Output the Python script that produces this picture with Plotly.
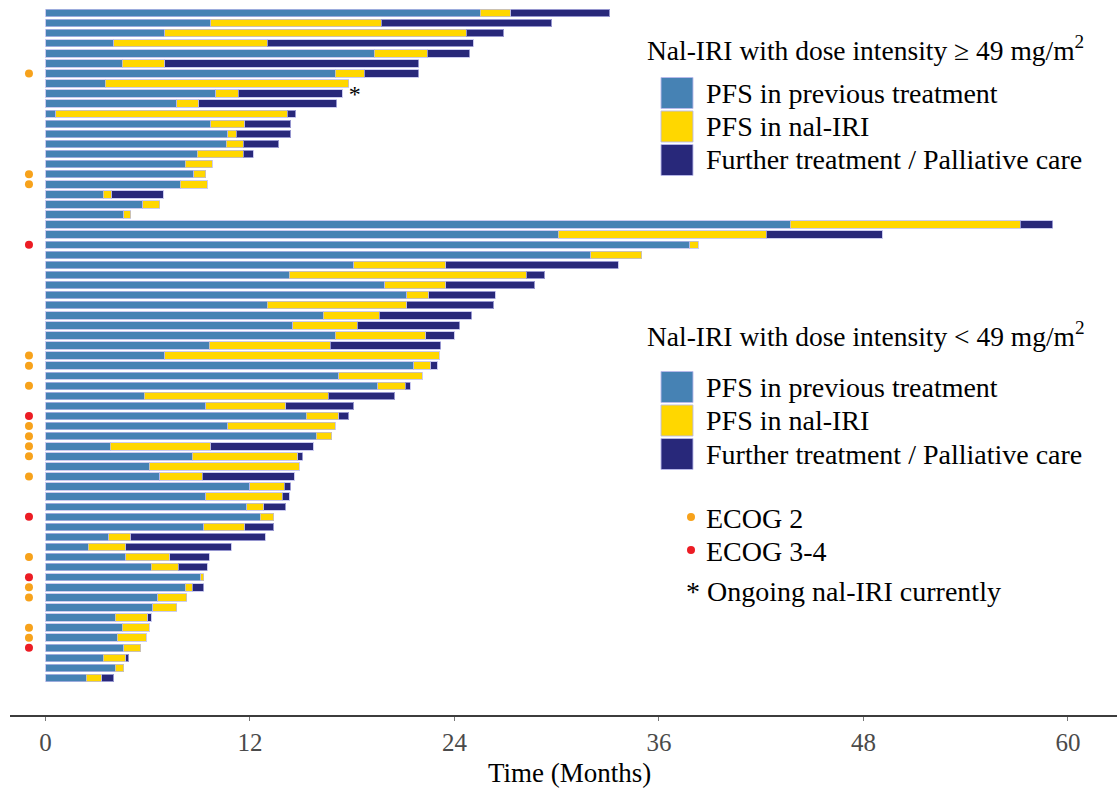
import plotly.graph_objects as go

# ---------------- data (months) ----------------
# Group 1: nal-IRI dose intensity >= 49 mg/m2 (top to bottom)
high_prev = [25.5, 9.7, 7.0, 4.0, 19.3, 4.5, 17.0, 3.5, 10.0, 7.7, 0.6, 9.7, 10.7, 10.6, 8.9, 8.2, 8.7, 7.9, 3.4, 5.7, 4.6]
high_nal = [1.8, 10.0, 17.7, 9.0, 3.1, 2.5, 1.7, 14.3, 1.3, 1.3, 13.6, 2.0, 0.5, 1.0, 2.7, 1.6, 0.7, 1.6, 0.5, 1.0, 0.4]
high_further = [5.8, 10.0, 2.2, 12.1, 2.5, 14.9, 3.2, 0.0, 6.1, 8.1, 0.5, 2.7, 3.2, 2.1, 0.6, 0.0, 0.0, 0.0, 3.0, 0.0, 0.0]
high_ecog = ["", "", "", "", "", "", "2", "", "", "", "", "", "", "", "", "", "2", "2", "", "", ""]
high_ongoing = [False, False, False, False, False, False, False, True, False, False, False, False, False, False, False, False, False, False, False, False, False]

# Group 2: nal-IRI dose intensity < 49 mg/m2 (top to bottom)
low_prev = [43.7, 30.1, 37.8, 32.0, 18.1, 14.3, 19.9, 21.2, 13.0, 16.3, 14.5, 17.0, 9.6, 7.0, 21.6, 17.2,
            19.5, 5.8, 9.4, 15.3, 10.7, 15.9, 3.8, 8.6, 6.1, 6.7, 12.0, 9.4, 11.8, 12.6, 9.3, 3.7,
            2.5, 4.7, 6.2, 9.1, 8.2, 6.6, 6.3, 4.1, 4.5, 4.2, 4.6, 3.4, 4.1, 2.4]
low_nal = [13.5, 12.2, 0.5, 3.0, 5.4, 13.9, 3.6, 1.3, 8.2, 3.3, 3.8, 5.3, 7.1, 16.1, 1.0, 4.9,
           1.6, 10.8, 4.7, 1.9, 6.3, 0.9, 5.9, 6.2, 8.8, 2.5, 2.0, 4.5, 1.0, 0.8, 2.4, 1.3,
           2.2, 2.6, 1.6, 0.2, 0.4, 1.7, 1.4, 1.9, 1.6, 1.7, 1.0, 1.3, 0.5, 0.9]
low_further = [1.9, 6.8, 0.0, 0.0, 10.1, 1.1, 5.2, 3.9, 5.1, 5.4, 6.0, 1.7, 6.5, 0.0, 0.4, 0.0,
               0.3, 3.9, 4.0, 0.6, 0.0, 0.0, 6.0, 0.3, 0.0, 5.4, 0.4, 0.4, 1.3, 0.0, 1.7, 7.9,
               6.2, 2.3, 1.7, 0.0, 0.7, 0.0, 0.0, 0.2, 0.0, 0.0, 0.0, 0.2, 0.0, 0.7]
low_ecog = ["", "", "3-4", "", "", "", "", "", "", "", "", "", "", "2", "2", "",
            "2", "", "", "3-4", "2", "2", "2", "2", "", "2", "", "", "", "3-4", "", "",
            "", "2", "", "3-4", "2", "2", "", "", "2", "2", "3-4", "", "", ""]
low_ongoing = [False] * len(low_prev)

tick_vals = [0, 12, 24, 36, 48, 60]
tick_text = ["0", "12", "24", "36", "48", "60"]

# ---------------- assemble ----------------
patients = [f"H{i+1}" for i in range(len(high_prev))] + [f"L{i+1}" for i in range(len(low_prev))]
prev = high_prev + low_prev
nal = high_nal + low_nal
further = high_further + low_further
ecog = high_ecog + low_ecog
ongoing = high_ongoing + low_ongoing

C_PREV = "#4682B4"
C_NAL = "#FFD700"
C_FUR = "#28287A"
C_E2 = "#F7A21B"
C_E34 = "#EC1C24"
SERIF = "Liberation Serif"
outline = dict(color="rgba(185,185,235,0.75)", width=1)

fig = go.Figure()
fig.add_trace(go.Bar(y=patients, x=prev, orientation="h", marker=dict(color=C_PREV, line=outline),
                     width=0.74, name="PFS in previous treatment"))
fig.add_trace(go.Bar(y=patients, x=nal, orientation="h", marker=dict(color=C_NAL, line=outline),
                     width=0.74, name="PFS in nal-IRI"))
fig.add_trace(go.Bar(y=patients, x=[f if f > 0 else None for f in further], orientation="h",
                     marker=dict(color=C_FUR, line=outline), width=0.74,
                     name="Further treatment / Palliative care"))

dot_x = -0.97
e2_y = [p for p, e in zip(patients, ecog) if e == "2"]
e34_y = [p for p, e in zip(patients, ecog) if e == "3-4"]
fig.add_trace(go.Scatter(x=[dot_x] * len(e2_y), y=e2_y, mode="markers",
                         marker=dict(color=C_E2, size=8), name="ECOG 2"))
fig.add_trace(go.Scatter(x=[dot_x] * len(e34_y), y=e34_y, mode="markers",
                         marker=dict(color=C_E34, size=8), name="ECOG 3-4"))

ong_y = [p for p, o in zip(patients, ongoing) if o]
ong_x = [pv + nv for pv, nv, o in zip(prev, nal, ongoing) if o]
fig.add_trace(go.Scatter(x=ong_x, y=ong_y, mode="text", text=["*"] * len(ong_y),
                         textposition="bottom right",
                         textfont=dict(family=SERIF, size=24, color="black"), name="Ongoing"))

# ---------------- layout ----------------
W, H = 1117, 789
ML, MR, MT, MB = 10, 0, 0, 74
pw, ph = W - ML - MR, H - MT - MB


def px(xp):
    return (xp - ML) / pw


def py(yp):
    return (H - MB - yp) / ph


shapes = []
annotations = []


def add_text(x, y, text, size=28, xanchor="left"):
    annotations.append(dict(x=px(x), y=py(y), xref="paper", yref="paper", text=text, showarrow=False,
                            xanchor=xanchor, yanchor="middle",
                            font=dict(family=SERIF, size=size, color="black")))


def add_box(x0, y0, x1, y1, color):
    shapes.append(dict(type="rect", xref="paper", yref="paper", x0=px(x0), x1=px(x1), y0=py(y1), y1=py(y0),
                       fillcolor=color, line=dict(color="rgba(185,185,235,0.9)", width=1)))


labels = ["PFS in previous treatment", "PFS in nal-IRI", "Further treatment / Palliative care"]
colors = [C_PREV, C_NAL, C_FUR]

# legend block 1
add_text(645, 48, "Nal-IRI with dose intensity ≥ 49 mg/m<sup>2</sup>", size=27.5)
for i, (lab, col) in enumerate(zip(labels, colors)):
    yc = 93 + i * 33.5
    add_box(661, yc - 15.5, 693, yc + 15.5, col)
    add_text(704, yc, lab)

# legend block 2
add_text(645, 334, "Nal-IRI with dose intensity < 49 mg/m<sup>2</sup>", size=27.5)
for i, (lab, col) in enumerate(zip(labels, colors)):
    yc = 387 + i * 33.5
    add_box(661, yc - 15.5, 693, yc + 15.5, col)
    add_text(704, yc, lab)

shapes.append(dict(type="circle", xref="paper", yref="paper", x0=px(687), x1=px(695), y0=py(521), y1=py(513),
                   fillcolor=C_E2, line=dict(width=0)))
add_text(704, 518, "ECOG 2")
shapes.append(dict(type="circle", xref="paper", yref="paper", x0=px(687), x1=px(695), y0=py(554), y1=py(546),
                   fillcolor=C_E34, line=dict(width=0)))
add_text(704, 551, "ECOG 3-4")
add_text(684, 591, "* Ongoing nal-IRI currently")

# axis title
add_text(569, 773, "Time (Months)", size=27, xanchor="center")

fig.update_layout(
    width=W, height=H,
    margin=dict(l=ML, r=MR, t=MT, b=MB),
    paper_bgcolor="white", plot_bgcolor="white",
    barmode="stack", bargap=0.26,
    showlegend=False,
    shapes=shapes, annotations=annotations,
    xaxis=dict(range=[-2.083, 62.88], tickvals=tick_vals, ticktext=tick_text,
               showgrid=False, zeroline=False, showline=True, linecolor="#3c3c3c", linewidth=2,
               ticks="outside", ticklen=4, tickcolor="#777", tickwidth=1,
               tickfont=dict(family=SERIF, size=25, color="#4a4a4a")),
    yaxis=dict(type="category", categoryorder="array", categoryarray=patients,
               range=[69.67, -1.29], showgrid=False, zeroline=False, showline=False,
               showticklabels=False, ticks=""),
)

fig.write_html("out.html")
